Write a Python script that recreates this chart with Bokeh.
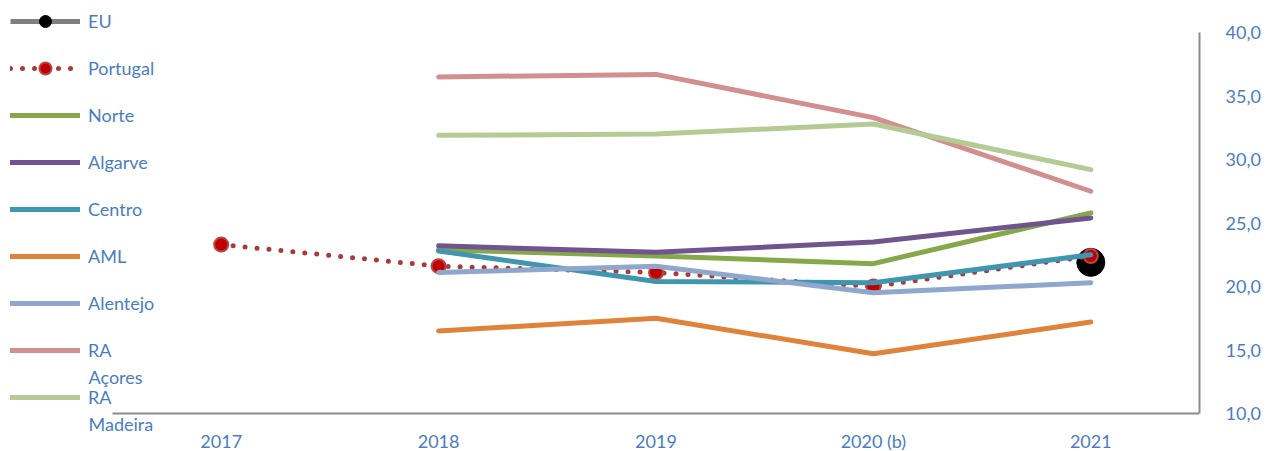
import numpy as np
from bokeh.plotting import figure
from bokeh.models import (ColumnDataSource, Range1d, LinearAxis, FixedTicker,
                          Legend, LegendItem, Label)
from bokeh.embed import file_html
from bokeh.resources import INLINE

years = ["2017", "2018", "2019", "2020 (b)", "2021"]
eu = [np.nan, np.nan, np.nan, np.nan, 21.9]
portugal = [23.3, 21.6, 21.1, 20.0, 22.4]
norte = [np.nan, 22.9, 22.4, 21.8, 25.8]
algarve = [np.nan, 23.2, 22.7, 23.5, 25.4]
centro = [np.nan, 22.8, 20.4, 20.3, 22.5]
aml = [np.nan, 16.5, 17.5, 14.7, 17.2]
alentejo = [np.nan, 21.1, 21.6, 19.5, 20.3]
ra_acores = [np.nan, 36.5, 36.7, 33.3, 27.5]
ra_madeira = [np.nan, 31.9, 32.0, 32.8, 29.2]
y_ticks = [10, 15, 20, 25, 30, 35, 40]
y_tick_labels = ["10,0", "15,0", "20,0", "25,0", "30,0", "35,0", "40,0"]

FONT = "Lato"
TXT = "#4A7DBF"
AXIS = "#8C8C8C"

xi = list(range(len(years)))

# layout (pixels)
CAT_W = 217.4          # pixel width of one category
LEFT = 112             # pixel position of the axis start
PLOT_H = 381           # pixel height from 10 to 40
TOP = 32               # pixel of value 40
FRAME_H = 450
FRAME_W = LEFT + CAT_W * len(years)

ymin, ymax = y_ticks[0], y_ticks[-1]
ppu = PLOT_H / (ymax - ymin)
y_top = ymax + TOP / ppu
y_bot = ymin - (FRAME_H - TOP - PLOT_H) / ppu
x_lo = -0.5 - LEFT / CAT_W
x_hi = len(years) - 0.5

src = ColumnDataSource(dict(x=xi, eu=eu, pt=portugal, norte=norte, algarve=algarve,
                            centro=centro, aml=aml, alentejo=alentejo,
                            acores=ra_acores, madeira=ra_madeira))

p = figure(x_range=Range1d(x_lo, x_hi), y_range=Range1d(y_bot, y_top),
           frame_width=int(round(FRAME_W)), frame_height=FRAME_H,
           min_border_left=0, min_border_top=0, min_border_bottom=0, min_border_right=0,
           output_backend="svg", toolbar_location=None,
           x_axis_location=None, y_axis_location=None)
p.outline_line_color = None
p.background_fill_color = "white"
p.border_fill_color = "white"
for g in p.grid:
    g.visible = False

xa = LinearAxis(ticker=FixedTicker(ticks=xi),
                major_label_overrides={i: y for i, y in zip(xi, years)},
                fixed_location=ymin, bounds=(-0.5, x_hi))
xa.axis_line_color = AXIS
xa.axis_line_width = 2
xa.major_tick_line_color = None
xa.minor_tick_line_color = None
xa.major_label_text_font = FONT
xa.major_label_text_font_size = "18px"
xa.major_label_text_color = TXT
xa.major_label_standoff = 10
p.add_layout(xa, "below")

ya = LinearAxis(ticker=FixedTicker(ticks=y_ticks), bounds=(ymin, ymax),
                major_label_overrides={t: l for t, l in zip(y_ticks, y_tick_labels)})
ya.axis_line_color = AXIS
ya.axis_line_width = 2
ya.major_tick_line_color = None
ya.minor_tick_line_color = None
ya.major_label_text_font = FONT
ya.major_label_text_font_size = "18px"
ya.major_label_text_color = TXT
ya.major_label_standoff = 20
p.add_layout(ya, "right")

LW = 5
r_eu_line = p.line("x", "eu", source=src, line_color="#808080", line_width=LW)
r_eu_pt = p.scatter("x", "eu", source=src, size=28, fill_color="black", line_color="black")
r_pt_line = p.line("x", "pt", source=src, line_color="#A83A3A", line_width=LW,
                   line_dash="0 12", line_cap="round")
r_pt_pt = p.scatter("x", "pt", source=src, size=14, fill_color="#C00000",
                    line_color="#B84444", line_width=2)

# (column, legend label, wrapped continuation, colour)
series = [("norte", "Norte", None, "#86A84A"), ("algarve", "Algarve", None, "#6F548F"),
          ("centro", "Centro", None, "#3F96AE"), ("aml", "AML", None, "#E0823A"),
          ("alentejo", "Alentejo", None, "#8FA7CD"), ("acores", "RA", "Açores", "#D28F8F"),
          ("madeira", "RA", "Madeira", "#B4CB94")]
items = [LegendItem(label="EU", renderers=[r_eu_line, r_eu_pt]),
         LegendItem(label="Portugal", renderers=[r_pt_line, r_pt_pt])]
wraps = []
for col, lab, cont, colr in series:
    r = p.line("x", col, source=src, line_color=colr, line_width=LW, line_cap="round")
    items.append(LegendItem(label=lab, renderers=[r]))
    wraps.append((len(items) - 1, cont))

GH = 30
PITCH = 47
SP = PITCH - GH
FIRST = 21
GW = 70
GX = 10
STAND = 8
LINE2 = 26

n = len(items)
leg_top = FIRST - GH / 2
leg_h = n * GH + (n - 1) * SP
legend = Legend(items=items, location=(GX, int(round(FRAME_H - leg_top - leg_h))))
legend.background_fill_alpha = 0
legend.border_line_color = None
legend.padding = 0
legend.margin = 0
legend.glyph_width = GW
legend.glyph_height = GH
legend.label_height = GH
legend.spacing = SP
legend.label_standoff = STAND
legend.label_text_font = FONT
legend.label_text_font_size = "18px"
legend.label_text_color = TXT
p.add_layout(legend, "center")

# wrapped second line of the long legend labels
for idx, cont in wraps:
    if cont:
        yc = FIRST + idx * PITCH + LINE2
        p.add_layout(Label(x=GX + GW + STAND, y=FRAME_H - yc, x_units="screen", y_units="screen",
                           text=cont, text_font=FONT, text_font_size="18px", text_color=TXT,
                           text_baseline="middle", text_align="left"))

open("out.html", "w").write(file_html(p, INLINE))
